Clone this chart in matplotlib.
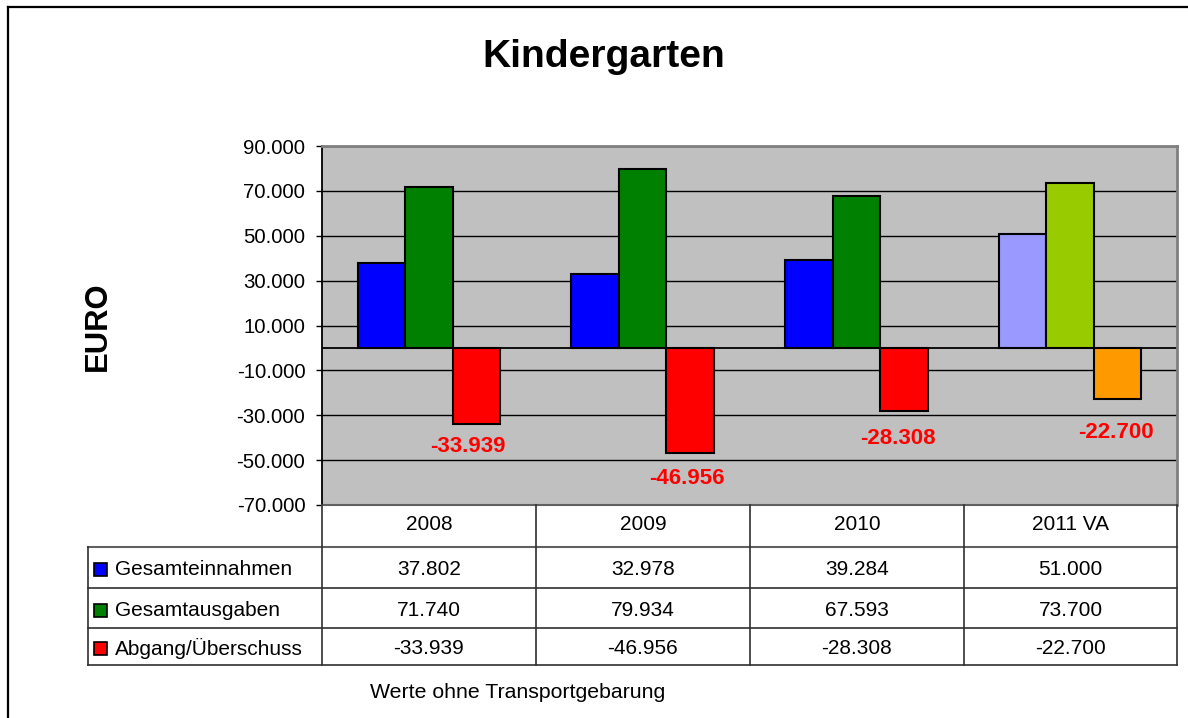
import numpy as np
import matplotlib
matplotlib.use("Agg")
import matplotlib.pyplot as plt
from matplotlib.patches import Rectangle

plt.rcParams['font.family'] = ['Liberation Sans', 'DejaVu Sans']

# data
years = ['2008', '2009', '2010', '2011 VA']
series = ['Gesamteinnahmen', 'Gesamtausgaben', 'Abgang/Überschuss']
einnahmen = [37802, 32978, 39284, 51000]
ausgaben = [71740, 79934, 67593, 73700]
abgang = [-33939, -46956, -28308, -22700]
values = [einnahmen, ausgaben, abgang]

cols = ['#0000FF', '#008000', '#FF0000']
cols_va = ['#9999FF', '#99CC00', '#FF9900']

# label nudges (pixels) for the red value labels
label_dx = [-9, -3, -6, -2]
label_dy = [-22, -25, -27, -34]

W, H = 1188, 718
fig = plt.figure(figsize=(W / 100, H / 100), dpi=100)

def fx(x):
    return x / W

def fy(y):
    return 1 - y / H

def de(v):
    return f"{v:,.0f}".replace(",", ".")

L, R, T, B = 322, 1177, 146, 505
ax = fig.add_axes([fx(L), fy(B), fx(R) - fx(L), fy(T) - fy(B)])
ax.set_facecolor('#C0C0C0')

x = np.arange(len(years))
w = 0.2225
for i, vals in enumerate(values):
    c = [cols[i]] * (len(years) - 1) + [cols_va[i]]
    ax.bar(x + (i - 1) * w, vals, w, color=c, edgecolor='black', linewidth=1.5, zorder=3)

for k, v in enumerate(abgang):
    ax.annotate(de(v), (x[k] + w, v),
                xytext=(label_dx[k], label_dy[k]), textcoords='offset pixels',
                ha='center', va='center', color='#FF0000', fontsize=16,
                fontweight='bold', zorder=4)

ax.set_xlim(-0.5, len(years) - 0.5)
ax.set_ylim(-70000, 90000)
ticks = np.arange(-70000, 90001, 20000)
ax.set_yticks(ticks)
ax.set_yticklabels([de(t) for t in ticks], fontsize=14.7)
ax.tick_params(axis='y', length=4.5, width=1, color='black', pad=7.5)
ax.set_xticks([])
ax.yaxis.grid(True, color='black', linewidth=1)
ax.set_axisbelow(True)
ax.axhline(0, color='black', linewidth=1.3, zorder=2)
ax.spines['left'].set_color('black')
ax.spines['left'].set_linewidth(1.3)
for s in ['top', 'right']:
    ax.spines[s].set_color('#808080')
    ax.spines[s].set_linewidth(2)
ax.spines['bottom'].set_visible(False)

# overlay in pixel coordinates for frame, titles and data table
ov = fig.add_axes([0, 0, 1, 1], zorder=5)
ov.set_xlim(0, W)
ov.set_ylim(H, 0)
ov.axis('off')
ov.patch.set_alpha(0)

ov.plot([8, W], [7, 7], color='black', lw=1.6)
ov.plot([8, 8], [7, H], color='black', lw=1.6)

ov.text(604, 57, 'Kindergarten', ha='center', va='center', fontsize=28.1, fontweight='bold')
ov.text(98, 326, 'EURO', ha='center', va='center', rotation=90, fontsize=22.3, fontweight='bold')
ov.text(370, 692, 'Werte ohne Transportgebarung', ha='left', va='center', fontsize=15.3)

col_edges = [322, 536, 750, 964, 1177]
row_edges = [505, 547, 588, 628, 665]
lc = '#303030'
ov.plot([L, R], [B, B], color='#606060', lw=1.5)
ov.plot([88, R], [547, 547], color='#606060', lw=1.5)
for yy in row_edges[2:]:
    ov.plot([88, R], [yy, yy], color=lc, lw=1.2)
for xx in col_edges:
    ov.plot([xx, xx], [505, 665], color=lc, lw=1.2)
ov.plot([88, 88], [547, 665], color=lc, lw=1.2)

for j, yr in enumerate(years):
    ov.text((col_edges[j] + col_edges[j + 1]) / 2, 525, yr, ha='center', va='center', fontsize=15)

for i, name in enumerate(series):
    yc = (row_edges[i + 1] + row_edges[i + 2]) / 2 + 2
    ov.add_patch(Rectangle((94, yc - 6.5), 13, 13, facecolor=cols[i], edgecolor='black', lw=1.2))
    ov.text(115, yc, name, ha='left', va='center', fontsize=15)
    for j, v in enumerate(values[i]):
        ov.text((col_edges[j] + col_edges[j + 1]) / 2, yc, de(v),
                ha='center', va='center', fontsize=15)

fig.savefig('out.png', dpi=100)
